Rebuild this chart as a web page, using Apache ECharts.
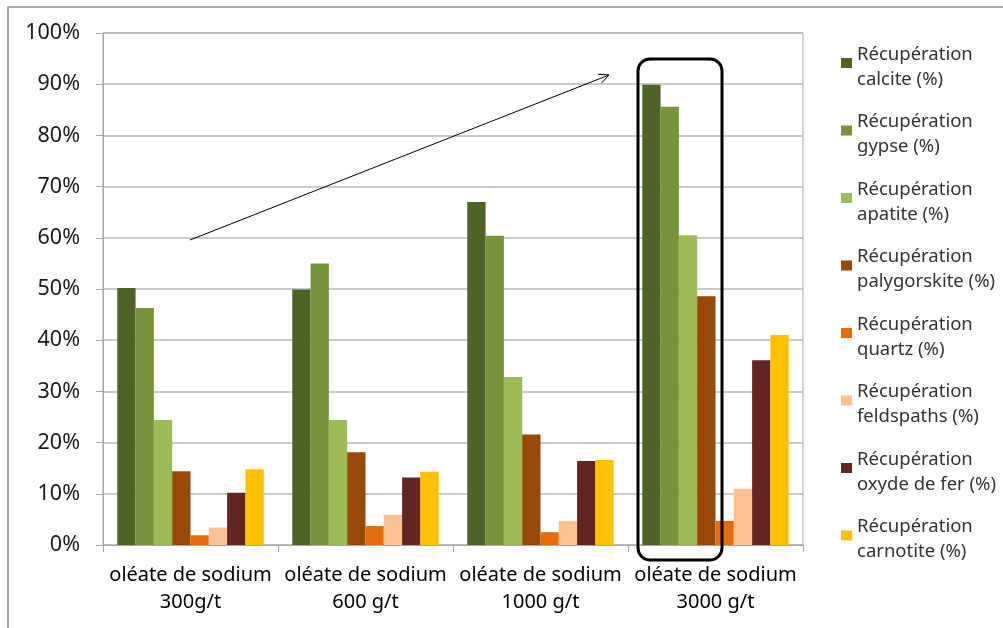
<!DOCTYPE html>
<html>
<head>
<meta charset="utf-8">
<script src="https://cdn.jsdelivr.net/npm/echarts@6/dist/echarts.min.js"></script>
<style>html,body{margin:0;padding:0;background:#fff}#c{width:1003px;height:628px}</style>
</head>
<body>
<div id="c"></div>
<script>
const categories = ['oléate de sodium\n300g/t', 'oléate de sodium\n600 g/t', 'oléate de sodium\n1000 g/t', 'oléate de sodium\n3000 g/t'];
const seriesNames = ['Récupération\ncalcite (%)', 'Récupération\ngypse (%)', 'Récupération\napatite (%)', 'Récupération\npalygorskite (%)', 'Récupération\nquartz (%)', 'Récupération\nfeldspaths (%)', 'Récupération\noxyde de fer (%)', 'Récupération\ncarnotite (%)'];
const calcite = [50.2, 49.9, 67.0, 89.9];
const gypse = [46.3, 55.0, 60.4, 85.6];
const apatite = [24.4, 24.4, 32.8, 60.5];
const palygorskite = [14.4, 18.1, 21.6, 48.6];
const quartz = [1.9, 3.7, 2.5, 4.7];
const feldspaths = [3.4, 5.9, 4.7, 11.0];
const oxydeFer = [10.2, 13.2, 16.4, 36.1];
const carnotite = [14.8, 14.3, 16.6, 41.0];
const colors = ['#4F6228', '#77933C', '#9BBB59', '#984807', '#E46C0A', '#FAC090', '#632523', '#FFC000'];
const yTicks = {min: 0, max: 100, interval: 10};

const allData = [calcite, gypse, apatite, palygorskite, quartz, feldspaths, oxydeFer, carnotite];
const chart = echarts.init(document.getElementById('c'));

// arrow geometry (annotation)
const ax0 = 190, ay0 = 240, ax1 = 609, ay1 = 75;
const ang = Math.atan2(ay1 - ay0, ax1 - ax0);
const hl = 11, ha = Math.PI / 7;
const h1 = [ax1 - hl * Math.cos(ang - ha), ay1 - hl * Math.sin(ang - ha)];
const h2 = [ax1 - hl * Math.cos(ang + ha), ay1 - hl * Math.sin(ang + ha)];

const iconPath = 'path://M0,0L0.01,0M0,16h11v10h-11ZM0,50L0.01,50';

chart.setOption({
  animation: false,
  color: colors,
  textStyle: {fontFamily: 'Noto Sans'},
  grid: {left: 103, top: 33, right: 200, bottom: 83, show: true, borderColor: '#a6a6a6', borderWidth: 1},
  legend: {
    orient: 'vertical',
    left: 841,
    top: 42,
    padding: 0,
    itemWidth: 11,
    itemHeight: 50,
    itemGap: 17.5,
    icon: iconPath,
    itemStyle: {borderWidth: 0},
    textStyle: {fontFamily: 'Noto Sans', fontSize: 18.5, color: '#333', lineHeight: 25},
    data: seriesNames
  },
  xAxis: {
    type: 'category',
    data: categories,
    axisLine: {lineStyle: {color: '#a6a6a6', width: 1}},
    axisTick: {show: true, length: 7, lineStyle: {color: '#a6a6a6'}},
    axisLabel: {fontFamily: 'Noto Sans', fontSize: 20, color: '#000', lineHeight: 27, margin: 17, interval: 0}
  },
  yAxis: {
    type: 'value',
    min: yTicks.min, max: yTicks.max, interval: yTicks.interval,
    axisLine: {show: true, lineStyle: {color: '#a6a6a6', width: 1}},
    axisTick: {show: true, length: 7, lineStyle: {color: '#a6a6a6'}},
    splitLine: {lineStyle: {color: '#b8b8b8', width: 1.5}},
    axisLabel: {fontFamily: 'Noto Sans', fontSize: 21.5, color: '#1a1a1a', margin: 23, formatter: '{value}%'}
  },
  series: seriesNames.map((n, i) => ({
    name: n,
    type: 'bar',
    data: allData[i],
    barGap: '0%',
    barCategoryGap: '16.3%',
    itemStyle: {color: colors[i]}
  })),
  graphic: [
    {type: 'rect', shape: {x: 8, y: 7, width: 1200, height: 800}, style: {fill: 'none', stroke: '#8c8c8c', lineWidth: 1.5}, silent: true, z: 100},
    {type: 'line', shape: {x1: ax0, y1: ay0, x2: ax1, y2: ay1}, style: {stroke: '#000', lineWidth: 1}, z: 100},
    {type: 'polyline', shape: {points: [h1, [ax1, ay1], h2]}, style: {stroke: '#000', lineWidth: 1, fill: 'none'}, z: 100},
    {type: 'rect', shape: {x: 638, y: 59, width: 84, height: 501, r: 12}, style: {fill: 'none', stroke: '#000', lineWidth: 3}, z: 100}
  ]
});
</script>
</body>
</html>
